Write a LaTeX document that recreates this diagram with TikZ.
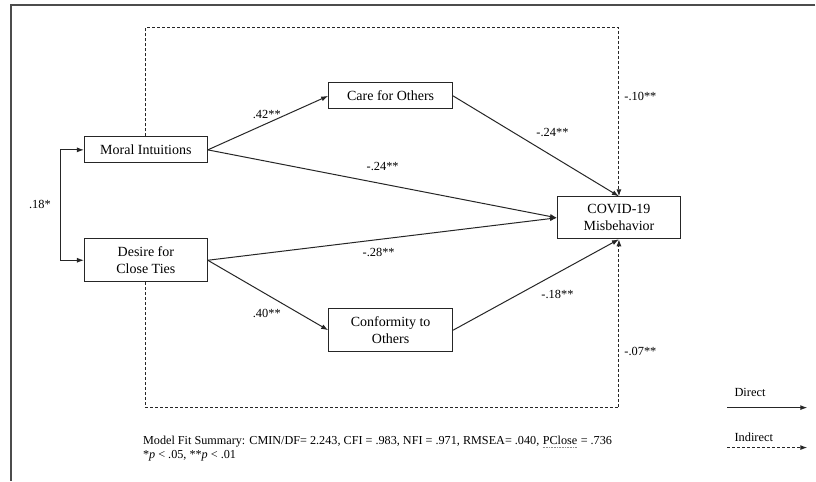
\documentclass[tikz,border=0pt]{standalone}
\usepackage{fontspec}
\setmainfont{Liberation Serif}
\usetikzlibrary{arrows.meta}
\begin{document}
\begin{tikzpicture}[x=1pt,y=-1pt,
  box/.style={draw=black!85, line width=1pt, minimum width=123pt, inner sep=0pt, align=center, font=\fontsize{14}{17}\selectfont},
  lbl/.style={font=\fontsize{12.4}{14}\selectfont, inner sep=0pt, text=black},
  note/.style={font=\fontsize{12.2}{14}\selectfont, inner sep=0pt, anchor=base west, text=black},
  tip/.style={-{Latex[length=7pt,width=5pt]}},
  conn/.style={draw=black!85, line width=1pt, tip},
  both/.style={draw=black!85, line width=1pt, {Latex[length=7pt,width=5pt]}-{Latex[length=7pt,width=5pt]}},
  ind/.style={conn, dash pattern=on 3pt off 2pt}]
\path[fill=white] (0,0) rectangle (816,481);
\draw[black!70, line width=1.5pt] (816,5) -- (11,5) -- (11,481);
% boxes
\node[box, minimum height=26pt] (mi) at (146,150) {Moral Intuitions};
\node[box, minimum height=43pt] (dct) at (146,260.5) {Desire for\\Close Ties};
\node[box, minimum width=124pt, minimum height=26pt] (care) at (391,96) {Care for Others};
\node[box, minimum width=124pt, minimum height=43pt] (conf) at (391,330.5) {Conformity to\\Others};
\node[box, minimum height=42pt] (covid) at (619.5,218) {COVID-19\\Misbehavior};
% direct paths
\draw[conn] (mi.east) -- (care.west);
\draw[conn] (mi.east) -- (covid.west);
\draw[conn] (dct.east) -- (covid.west);
\draw[conn] (dct.east) -- (conf.west);
\draw[conn] (care.east) -- (covid.north);
\draw[conn] (conf.east) -- (covid.south);
% correlation
\coordinate (cl) at (61,0);
\draw[both] (mi.west) -| (cl |- dct.west) -- (dct.west);
% indirect paths
\coordinate (dtop) at (0,28);
\coordinate (dbot) at (0,408);
\draw[ind] (mi.north) -- (mi.north |- dtop) -| (covid.north);
\draw[ind] (dct.south) -- (dct.south |- dbot) -| (covid.south);
% labels
\node[lbl] (l18) at (40,205) {.18*};
\node[lbl] (l42) at (267,115) {.42**};
\node[lbl] (l24a) at (383,167) {-.24**};
\node[lbl] (l24b) at (553,133) {-.24**};
\node[lbl] (l10) at (641,97) {-.10**};
\node[lbl] (l28) at (379,253) {-.28**};
\node[lbl] (l40) at (267,314) {.40**};
\node[lbl] (l18b) at (558,295) {-.18**};
\node[lbl] (l07) at (641,352) {-.07**};
% legend
\node[lbl, anchor=west] (ldir) at (735,393) {Direct};
\node[lbl, anchor=west] (lind) at (735,438) {Indirect};
\coordinate (d1) at (728,408);
\coordinate (d2) at (808,408);
\coordinate (i1) at (728,448);
\coordinate (i2) at (808,448);
\draw[conn] (d1) -- (d2);
\draw[ind] (i1) -- (i2);
% notes
\node[note] (fit) at (143,445) {Model Fit Summary: CMIN/DF= 2.243, CFI = .983, NFI = .971, RMSEA= .040,};
\node[note, xshift=3.05pt] (pc) at (fit.base east) {PClose};
\node[note, xshift=3.05pt] (fitend) at (pc.base east) {= .736};
\draw[black!45, line width=0.6pt, dash pattern=on 0.8pt off 0.8pt] ([yshift=-2.5pt]pc.base west) -- ([yshift=-2.5pt]pc.base east);
\node[note] (sig) at (143,459) {*\textit{p} < .05, **\textit{p} < .01};
\end{tikzpicture}
\end{document}
